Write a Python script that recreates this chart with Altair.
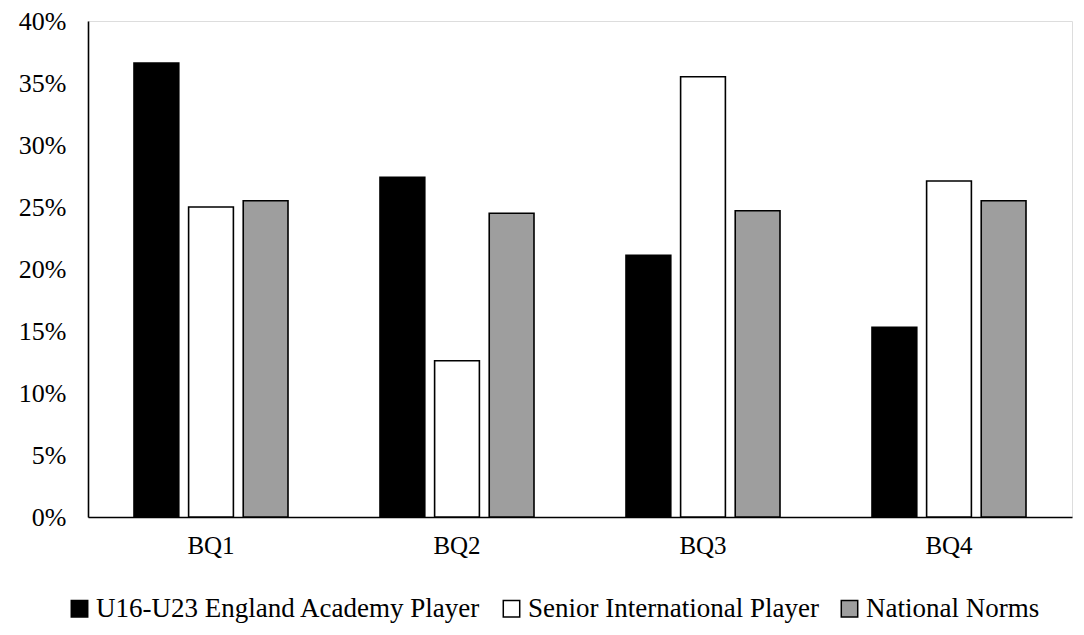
import altair as alt
import pandas as pd

categories = ["BQ1", "BQ2", "BQ3", "BQ4"]
series = ["U16-U23 England Academy Player", "Senior International Player", "National Norms"]
academy = [0.366, 0.274, 0.211, 0.153]
senior = [0.250, 0.126, 0.355, 0.271]
norms = [0.255, 0.245, 0.247, 0.255]
y_ticks = [0, 0.05, 0.10, 0.15, 0.20, 0.25, 0.30, 0.35, 0.40]
colors = ["#000000", "#ffffff", "#9e9e9e"]

rows = []
for s, vals in zip(series, [academy, senior, norms]):
    for c, v in zip(categories, vals):
        rows.append({"cat": c, "series": s, "value": v})
df = pd.DataFrame(rows)

FONT = "Liberation Serif"

chart = alt.Chart(df).mark_bar(stroke="black", strokeWidth=1.6).encode(
    x=alt.X("cat:N", sort=categories,
            scale=alt.Scale(paddingInner=0.334, paddingOuter=0.167),
            axis=alt.Axis(title=None, labelAngle=0, ticks=False, tickSize=0,
                          labelPadding=16, labelFontSize=25, labelFont=FONT,
                          labelColor="black", domainColor="black", domainWidth=1.6)),
    xOffset=alt.XOffset("series:N", sort=series,
                        scale=alt.Scale(paddingInner=0.18, paddingOuter=0.09)),
    y=alt.Y("value:Q", scale=alt.Scale(domain=[0, 0.4], nice=False),
            axis=alt.Axis(title=None, values=y_ticks, format=".0%", grid=False,
                          ticks=False, tickSize=0, labelPadding=22, labelFontSize=26,
                          labelFont=FONT, labelColor="black",
                          domainColor="black", domainWidth=1.6)),
    color=alt.Color("series:N", sort=series,
                    scale=alt.Scale(domain=series, range=colors),
                    legend=alt.Legend(title=None, orient="none", direction="horizontal",
                                      legendX=-22, legendY=574, symbolType="square",
                                      symbolSize=270, symbolStrokeColor="black",
                                      symbolStrokeWidth=1.5, labelOffset=3,
                                      labelFontSize=27, labelFont=FONT, labelColor="black",
                                      columnPadding=17, padding=0, labelLimit=600)),
).properties(
    width=984, height=496,
    autosize=alt.AutoSizeParams(type="none"),
    padding={"left": 80, "top": 13, "right": 4, "bottom": 108},
).configure_view(stroke=None).configure(background="white")

chart.save("out.html", embed_options={"renderer": "svg", "actions": False})
